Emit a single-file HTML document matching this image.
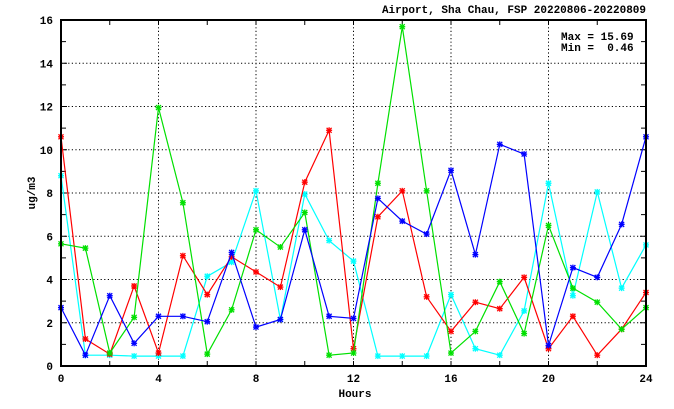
<!DOCTYPE html><html><head><meta charset="utf-8"><style>body{margin:0;background:#fff}svg{display:block}text{font-family:"Liberation Mono",monospace;font-size:11px;font-weight:bold;white-space:pre}</style></head><body>
<svg id="s" width="674" height="409" xmlns="http://www.w3.org/2000/svg"></svg>
<script>
const L=61,R=646,T=20,B=366;
const X=h=>L+(R-L)*h/24, Y=v=>B-(B-T)*v/16;
let o='';
for(let h=4;h<24;h+=4)o+=`<line x1="${X(h)}" y1="${T}" x2="${X(h)}" y2="${B}" stroke="#000" stroke-dasharray="1.2,2.4" stroke-width="1"/>`;
for(let v=2;v<16;v+=2)o+=`<line x1="${L}" y1="${Y(v)}" x2="${R}" y2="${Y(v)}" stroke="#000" stroke-dasharray="1.2,2.4" stroke-width="1"/>`;
for(let v=1;v<16;v++){const l=v%2?5:6;o+=`<line x1="${L}" y1="${Y(v)}" x2="${L+l}" y2="${Y(v)}" stroke="#000"/><line x1="${R-l}" y1="${Y(v)}" x2="${R}" y2="${Y(v)}" stroke="#000"/>`}
for(let h=2;h<24;h+=2){o+=`<line x1="${X(h)}" y1="${T}" x2="${X(h)}" y2="${T+5}" stroke="#000"/><line x1="${X(h)}" y1="${B-5}" x2="${X(h)}" y2="${B}" stroke="#000"/>`}
const S={
cyan:[8.8,0.5,0.5,0.46,0.46,0.46,4.15,4.8,8.1,2.15,7.95,5.8,4.85,0.46,0.46,0.46,3.3,0.8,0.5,2.55,8.45,3.25,8.05,3.6,5.6],
red:[10.6,1.25,0.55,3.7,0.6,5.1,3.3,5.05,4.35,3.65,8.5,10.9,0.8,6.9,8.1,3.2,1.6,2.95,2.65,4.1,0.8,2.3,0.5,1.7,3.4],
'#00e000':[5.65,5.45,0.6,2.25,11.95,7.55,0.55,2.6,6.3,5.5,7.1,0.5,0.6,8.45,15.69,8.1,0.6,1.6,3.9,1.5,6.5,3.6,2.95,1.7,2.7],
blue:[2.7,0.5,3.25,1.05,2.3,2.3,2.05,5.25,1.8,2.15,6.3,2.3,2.2,7.75,6.7,6.1,9.05,5.15,10.25,9.8,0.95,4.55,4.1,6.55,10.6]};
for(const c in S){const d=S[c];o+=`<polyline fill="none" stroke="${c}" stroke-width="1.2" points="${d.map((v,i)=>X(i).toFixed(1)+','+Y(v).toFixed(1)).join(' ')}"/>`;
d.forEach((v,i)=>{const x=X(i),y=Y(v);o+=`<g stroke="${c}" stroke-width="1.3"><line x1="${x-3}" y1="${y}" x2="${x+3}" y2="${y}"/><line x1="${x}" y1="${y-3}" x2="${x}" y2="${y+3}"/><line x1="${x-2.5}" y1="${y-2.5}" x2="${x+2.5}" y2="${y+2.5}"/><line x1="${x-2.5}" y1="${y+2.5}" x2="${x+2.5}" y2="${y-2.5}"/></g>`});}
o+=`<rect x="${L}" y="${T}" width="${R-L}" height="${B-T}" fill="none" stroke="#000" stroke-width="2"/>`;
for(let v=0;v<=16;v+=2)o+=`<text x="${L-8}" y="${Y(v)+4}" text-anchor="end">${v}</text>`;
for(let h=0;h<=24;h+=4)o+=`<text x="${X(h)}" y="${B+16}" text-anchor="middle">${h}</text>`;
o+=`<text x="355" y="397" text-anchor="middle">Hours</text>`;
o+=`<text x="0" y="0" text-anchor="middle" transform="translate(35,193) rotate(-90)">ug/m3</text>`;
o+=`<text x="646" y="13" text-anchor="end">Airport, Sha Chau, FSP 20220806-20220809</text>`;
o+=`<text x="561" y="40">Max = 15.69</text><text x="561" y="51">Min =  0.46</text>`;
document.getElementById('s').innerHTML=o;
</script></body></html>
